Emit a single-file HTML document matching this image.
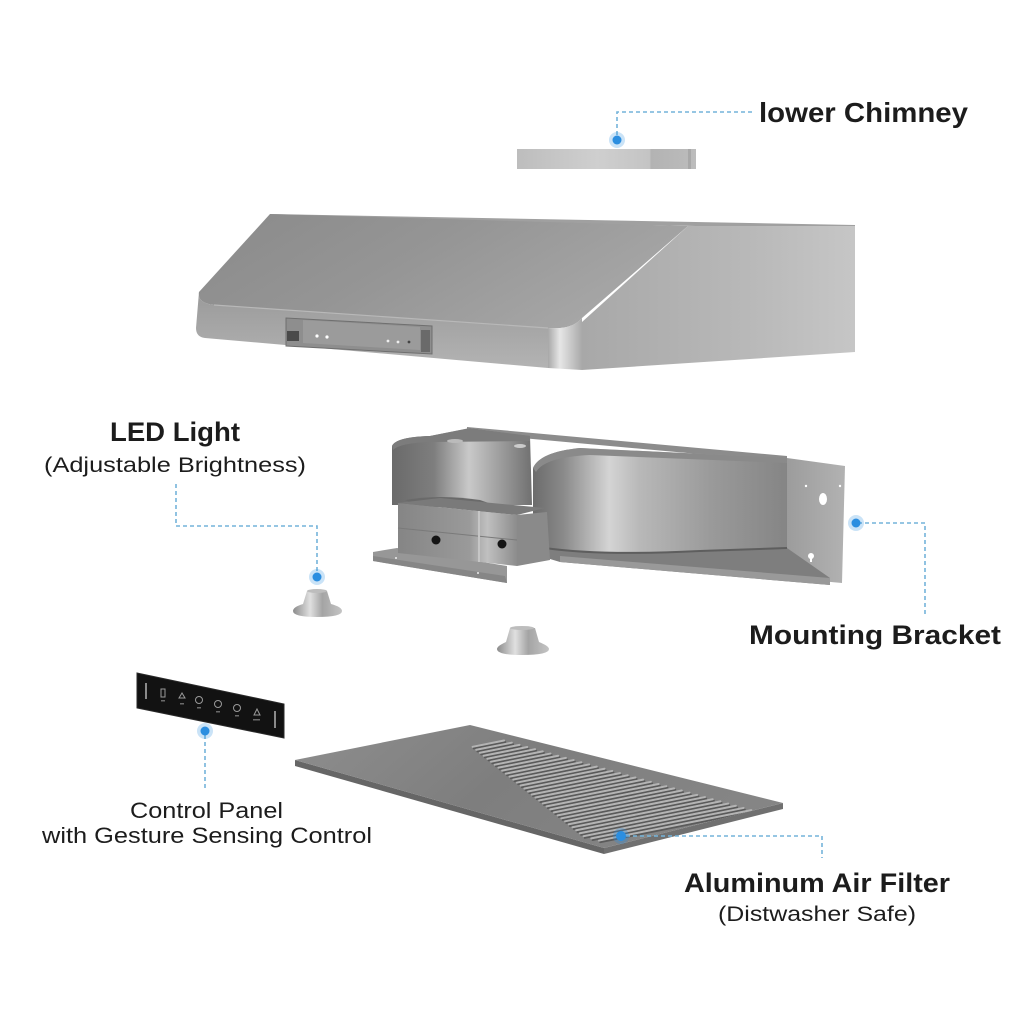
<!DOCTYPE html>
<html>
<head>
<meta charset="utf-8">
<style>
html,body{margin:0;padding:0;background:#fff;}
body{width:1024px;height:1024px;overflow:hidden;}
svg{display:block;}
text{font-family:"Liberation Sans",sans-serif;fill:#1c1c1c;}
.b{font-weight:bold;}
.c{fill:none;stroke:#74b4da;stroke-width:1.6;stroke-dasharray:4 3;}
</style>
</head>
<body>
<svg width="1024" height="1024" viewBox="0 0 1024 1024" xmlns="http://www.w3.org/2000/svg" xmlns:xlink="http://www.w3.org/1999/xlink">
<defs>
  <linearGradient id="chim" x1="0" y1="0" x2="1" y2="0">
    <stop offset="0" stop-color="#bdbdbd"/>
    <stop offset="0.45" stop-color="#cfcfcf"/>
    <stop offset="0.74" stop-color="#c4c4c4"/>
    <stop offset="0.75" stop-color="#b3b3b3"/>
    <stop offset="1" stop-color="#bcbcbc"/>
  </linearGradient>
  <linearGradient id="slope" x1="0" y1="0" x2="1" y2="0.4">
    <stop offset="0" stop-color="#8a8a8a"/>
    <stop offset="0.5" stop-color="#959595"/>
    <stop offset="1" stop-color="#a6a6a6"/>
  </linearGradient>
  <linearGradient id="side" x1="0" y1="0" x2="1" y2="0">
    <stop offset="0" stop-color="#a8a8a8"/>
    <stop offset="0.6" stop-color="#b8b8b8"/>
    <stop offset="1" stop-color="#c6c6c6"/>
  </linearGradient>
  <linearGradient id="front" x1="0" y1="0" x2="0" y2="1">
    <stop offset="0" stop-color="#9a9a9a"/>
    <stop offset="1" stop-color="#b3b3b3"/>
  </linearGradient>
  <linearGradient id="corner" x1="0" y1="0" x2="1" y2="0">
    <stop offset="0" stop-color="#a8a8a8"/>
    <stop offset="0.35" stop-color="#e6e6e6"/>
    <stop offset="0.6" stop-color="#cfcfcf"/>
    <stop offset="1" stop-color="#a9a9a9"/>
  </linearGradient>
  <linearGradient id="cylR" x1="0" y1="0" x2="1" y2="0">
    <stop offset="0" stop-color="#6c6c6c"/>
    <stop offset="0.12" stop-color="#8a8a8a"/>
    <stop offset="0.3" stop-color="#d4d4d4"/>
    <stop offset="0.42" stop-color="#b8b8b8"/>
    <stop offset="0.7" stop-color="#9a9a9a"/>
    <stop offset="1" stop-color="#858585"/>
  </linearGradient>
  <linearGradient id="cylL" x1="0" y1="0" x2="1" y2="0">
    <stop offset="0" stop-color="#6a6a6a"/>
    <stop offset="0.3" stop-color="#7e7e7e"/>
    <stop offset="0.55" stop-color="#c9c9c9"/>
    <stop offset="0.85" stop-color="#8e8e8e"/>
    <stop offset="1" stop-color="#707070"/>
  </linearGradient>
  <linearGradient id="plate" x1="0" y1="0" x2="1" y2="0">
    <stop offset="0" stop-color="#9c9c9c"/>
    <stop offset="1" stop-color="#b2b2b2"/>
  </linearGradient>
  <linearGradient id="box" x1="0" y1="0" x2="1" y2="0">
    <stop offset="0" stop-color="#858585"/>
    <stop offset="0.6" stop-color="#9a9a9a"/>
    <stop offset="0.75" stop-color="#c0c0c0"/>
    <stop offset="1" stop-color="#8c8c8c"/>
  </linearGradient>
  <linearGradient id="cone" x1="0" y1="0" x2="1" y2="0">
    <stop offset="0" stop-color="#8c8c8c"/>
    <stop offset="0.35" stop-color="#e0e0e0"/>
    <stop offset="0.6" stop-color="#a4a4a4"/>
    <stop offset="1" stop-color="#c4c4c4"/>
  </linearGradient>
  <linearGradient id="filt" x1="0" y1="0" x2="1" y2="0.3">
    <stop offset="0" stop-color="#8e8e8e"/>
    <stop offset="0.5" stop-color="#7e7e7e"/>
    <stop offset="1" stop-color="#858585"/>
  </linearGradient>
  <clipPath id="fclip"><polygon points="295,760 470,725 783,803 604,848"/></clipPath>
  <g id="sl" transform="matrix(309 87 175 -35 295 760)" stroke-width="2" stroke-linecap="round">
    <line x1="0.150" y1="0.750" x2="0.150" y2="0.93" vector-effect="non-scaling-stroke"/>
    <line x1="0.175" y1="0.727" x2="0.175" y2="0.93" vector-effect="non-scaling-stroke"/>
    <line x1="0.200" y1="0.704" x2="0.200" y2="0.93" vector-effect="non-scaling-stroke"/>
    <line x1="0.225" y1="0.681" x2="0.225" y2="0.93" vector-effect="non-scaling-stroke"/>
    <line x1="0.250" y1="0.658" x2="0.250" y2="0.93" vector-effect="non-scaling-stroke"/>
    <line x1="0.275" y1="0.635" x2="0.275" y2="0.93" vector-effect="non-scaling-stroke"/>
    <line x1="0.300" y1="0.612" x2="0.300" y2="0.93" vector-effect="non-scaling-stroke"/>
    <line x1="0.325" y1="0.589" x2="0.325" y2="0.93" vector-effect="non-scaling-stroke"/>
    <line x1="0.350" y1="0.566" x2="0.350" y2="0.93" vector-effect="non-scaling-stroke"/>
    <line x1="0.375" y1="0.543" x2="0.375" y2="0.93" vector-effect="non-scaling-stroke"/>
    <line x1="0.400" y1="0.520" x2="0.400" y2="0.93" vector-effect="non-scaling-stroke"/>
    <line x1="0.425" y1="0.497" x2="0.425" y2="0.93" vector-effect="non-scaling-stroke"/>
    <line x1="0.450" y1="0.474" x2="0.450" y2="0.93" vector-effect="non-scaling-stroke"/>
    <line x1="0.475" y1="0.451" x2="0.475" y2="0.93" vector-effect="non-scaling-stroke"/>
    <line x1="0.500" y1="0.428" x2="0.500" y2="0.93" vector-effect="non-scaling-stroke"/>
    <line x1="0.525" y1="0.405" x2="0.525" y2="0.93" vector-effect="non-scaling-stroke"/>
    <line x1="0.550" y1="0.382" x2="0.550" y2="0.93" vector-effect="non-scaling-stroke"/>
    <line x1="0.575" y1="0.359" x2="0.575" y2="0.93" vector-effect="non-scaling-stroke"/>
    <line x1="0.600" y1="0.336" x2="0.600" y2="0.93" vector-effect="non-scaling-stroke"/>
    <line x1="0.625" y1="0.313" x2="0.625" y2="0.93" vector-effect="non-scaling-stroke"/>
    <line x1="0.650" y1="0.290" x2="0.650" y2="0.93" vector-effect="non-scaling-stroke"/>
    <line x1="0.675" y1="0.267" x2="0.675" y2="0.93" vector-effect="non-scaling-stroke"/>
    <line x1="0.700" y1="0.244" x2="0.700" y2="0.93" vector-effect="non-scaling-stroke"/>
    <line x1="0.725" y1="0.221" x2="0.725" y2="0.93" vector-effect="non-scaling-stroke"/>
    <line x1="0.750" y1="0.198" x2="0.750" y2="0.93" vector-effect="non-scaling-stroke"/>
    <line x1="0.775" y1="0.175" x2="0.775" y2="0.93" vector-effect="non-scaling-stroke"/>
    <line x1="0.800" y1="0.152" x2="0.800" y2="0.93" vector-effect="non-scaling-stroke"/>
    <line x1="0.825" y1="0.129" x2="0.825" y2="0.93" vector-effect="non-scaling-stroke"/>
    <line x1="0.850" y1="0.106" x2="0.850" y2="0.93" vector-effect="non-scaling-stroke"/>
    <line x1="0.875" y1="0.083" x2="0.875" y2="0.93" vector-effect="non-scaling-stroke"/>
    <line x1="0.900" y1="0.060" x2="0.900" y2="0.93" vector-effect="non-scaling-stroke"/>
    <line x1="0.925" y1="0.060" x2="0.925" y2="0.93" vector-effect="non-scaling-stroke"/>
    <line x1="0.950" y1="0.060" x2="0.950" y2="0.93" vector-effect="non-scaling-stroke"/>
  </g>
</defs>

<!-- ===== Lower chimney ===== -->
<rect x="517" y="149" width="179" height="20" fill="url(#chim)"/>
<rect x="688" y="149" width="3" height="20" fill="#a8a8a8"/>
<path class="c" d="M752,112 L617,112 L617,138"/>
<circle cx="617" cy="140" r="8" fill="#2b8ee0" opacity="0.25"/>
<circle cx="617" cy="140" r="4.5" fill="#2b8ee0"/>
<text class="b" x="759" y="122" font-size="28" textLength="209" lengthAdjust="spacingAndGlyphs">lower Chimney</text>

<!-- ===== Hood ===== -->
<path d="M270,214 L855,225 L855,229 L270,218 Z" fill="#a0a0a0"/>
<path d="M270,214 L688,226 L582,318 Q572,330 548,328 L214,305 Q197,303 199,292 Z" fill="url(#slope)"/>
<path d="M688,226 L855,226 L855,352 L582,370 L582,322 Z" fill="url(#side)"/>
<path d="M548,328 Q572,330 582,318 L582,370 L548,368 Z" fill="url(#corner)"/>
<path d="M199,292 Q197,303 214,305 L548,328 L548,368 L205,338 Q196,337 196,328 Z" fill="url(#front)"/>
<path d="M214,305 L548,328" stroke="#b8b8b8" stroke-width="1.2" fill="none"/>
<!-- hood control strip -->
<path d="M286,318 L432,326 L432,354 L286,346 Z" fill="#8e8e8e" stroke="#6f6f6f" stroke-width="1"/>
<path d="M303,320 L420,327 L420,350 L303,343 Z" fill="#9b9b9b"/>
<rect x="287" y="331" width="12" height="10" fill="#4a4a4a"/>
<rect x="421" y="330" width="9" height="22" fill="#6a6a6a"/>
<circle cx="317" cy="336" r="1.6" fill="#fff"/>
<circle cx="327" cy="337" r="1.6" fill="#fff"/>
<circle cx="388" cy="341" r="1.4" fill="#eee"/>
<circle cx="398" cy="342" r="1.4" fill="#eee"/>
<circle cx="409" cy="342" r="1.4" fill="#444"/>

<!-- ===== Blower / mounting bracket assembly ===== -->
<path d="M467,427 L787,456 L787,462 L467,433 Z" fill="#8c8c8c"/>
<path d="M787,458 L845,466 L842,583 L787,578 Z" fill="url(#plate)"/>
<ellipse cx="823" cy="499" rx="4" ry="6" fill="#fff"/>
<circle cx="811" cy="556" r="3" fill="#fff"/>
<rect x="810" y="556" width="2" height="6" fill="#fff"/>
<circle cx="806" cy="486" r="1.2" fill="#fff"/>
<circle cx="840" cy="486" r="1.2" fill="#fff"/>
<path d="M540,546 L787,548 L830,578 L830,585 L560,562 L540,556 Z" fill="#7e7e7e"/>
<path d="M560,556 L830,578 L830,585 L560,562 Z" fill="#999"/>
<path d="M533,468 Q540,452 580,448 L787,458 L787,548 L700,551 Q600,556 545,548 Q533,544 533,530 Z" fill="url(#cylR)"/>
<path d="M533,468 Q540,452 580,448 L787,458 L787,463 L590,455 Q545,457 536,472 Z" fill="#8a8a8a"/>
<path d="M545,548 Q600,556 700,551 L787,548" stroke="#5e5e5e" stroke-width="2" fill="none"/>
<path d="M392,446 Q396,437 430,436 L470,428 L530,436 L532,505 L392,505 Z" fill="url(#cylL)"/>
<path d="M392,446 Q396,437 430,436 L470,428 L530,436 L530,441 L430,442 Q400,443 393,450 Z" fill="#7c7c7c"/>
<ellipse cx="455" cy="441" rx="8" ry="2" fill="#bbb"/>
<ellipse cx="520" cy="446" rx="6" ry="2" fill="#ccc"/>
<path d="M405,500 Q440,494 480,500 L500,507 L420,507 Z" fill="#6a6a6a"/>
<path d="M373,552 L397,548 L507,566 L507,583 L373,561 Z" fill="#979797"/>
<path d="M373,556 L505,576 L507,583 L373,561 Z" fill="#868686"/>
<circle cx="396" cy="558" r="1" fill="#eee"/>
<circle cx="478" cy="573" r="1" fill="#eee"/>
<path d="M398,503 L517,515 L517,566 L398,553 Z" fill="url(#box)"/>
<path d="M517,515 L547,512 L550,560 L517,566 Z" fill="#8a8a8a"/>
<path d="M398,503 L440,498 L545,508 L517,515 Z" fill="#7a7a7a"/>
<path d="M398,528 L517,540" stroke="#7a7a7a" stroke-width="1"/>
<line x1="479" y1="511" x2="479" y2="562" stroke="#c6c6c6" stroke-width="2"/>
<circle cx="436" cy="540" r="4.5" fill="#151515"/>
<circle cx="502" cy="544" r="4.5" fill="#151515"/>

<path class="c" d="M858,523 L925,523 L925,617"/>
<circle cx="856" cy="523" r="8" fill="#2b8ee0" opacity="0.25"/>
<circle cx="856" cy="523" r="4.5" fill="#2b8ee0"/>
<text class="b" x="749" y="644" font-size="27" textLength="252" lengthAdjust="spacingAndGlyphs">Mounting Bracket</text>

<!-- ===== LED lights ===== -->
<path d="M307,591 L327,591 L331,604 Q342,607 342,611 Q342,617 317,617 Q293,617 293,611 Q293,607 303,604 Z" fill="url(#cone)"/>
<ellipse cx="317" cy="591" rx="10" ry="2" fill="#bdbdbd"/>
<path d="M510,628 L535,628 L539,642 Q549,646 549,649 Q549,655 522,655 Q497,655 497,649 Q497,646 506,642 Z" fill="url(#cone)"/>
<ellipse cx="522" cy="628" rx="12" ry="2" fill="#bdbdbd"/>
<path class="c" d="M176,484 L176,526 L317,526 L317,573"/>
<circle cx="317" cy="577" r="8" fill="#2b8ee0" opacity="0.25"/>
<circle cx="317" cy="577" r="4.5" fill="#2b8ee0"/>
<text class="b" x="110" y="441" font-size="27" textLength="130" lengthAdjust="spacingAndGlyphs">LED Light</text>
<text x="44" y="472" font-size="21" textLength="262" lengthAdjust="spacingAndGlyphs">(Adjustable Brightness)</text>

<!-- ===== Control panel ===== -->
<path d="M137,673 L284,704 L284,738 L137,708 Z" fill="#121212" stroke="#2a2a2a" stroke-width="1"/>
<rect x="145" y="683" width="2" height="16" fill="#8a8a8a"/>
<rect x="274" y="711" width="2" height="17" fill="#8a8a8a"/>
<g fill="none" stroke="#9a9a9a" stroke-width="1">
  <rect x="161" y="689" width="4" height="8"/>
  <path d="M182,693 l-3,5 h6 z"/>
  <circle cx="199" cy="700" r="3.5"/>
  <circle cx="218" cy="704" r="3.5"/>
  <circle cx="237" cy="708" r="3.5"/>
  <path d="M257,709 l-3,6 h6 z"/>
</g>
<g fill="#6a6a6a">
  <rect x="161" y="700" width="4" height="1.5"/>
  <rect x="180" y="703" width="4" height="1.5"/>
  <rect x="197" y="707" width="4" height="1.5"/>
  <rect x="216" y="711" width="4" height="1.5"/>
  <rect x="235" y="715" width="4" height="1.5"/>
  <rect x="253" y="719" width="7" height="1.5"/>
</g>
<path class="c" d="M205,735 L205,790"/>
<circle cx="205" cy="731" r="8" fill="#2b8ee0" opacity="0.25"/>
<circle cx="205" cy="731" r="4.5" fill="#2b8ee0"/>
<text x="130" y="818" font-size="22" textLength="153" lengthAdjust="spacingAndGlyphs">Control Panel</text>
<text x="42" y="843" font-size="22" textLength="330" lengthAdjust="spacingAndGlyphs">with Gesture Sensing Control</text>

<!-- ===== Aluminum filter ===== -->
<path d="M295,760 L604,848 L604,854 L295,766 Z" fill="#666"/>
<path d="M604,848 L783,803 L783,809 L604,854 Z" fill="#707070"/>
<polygon points="295,760 470,725 783,803 604,848" fill="url(#filt)"/>
<g clip-path="url(#fclip)">
  <use xlink:href="#sl" href="#sl" stroke="#5a5a5a" transform="translate(1.2,1.6)"/>
  <use xlink:href="#sl" href="#sl" stroke="#b4b4b4"/>
</g>
<path class="c" d="M626,836 L822,836 L822,858"/>
<circle cx="621" cy="836" r="8" fill="#2b8ee0" opacity="0.3"/>
<circle cx="621" cy="836" r="5" fill="#2b8ee0"/>
<text class="b" x="684" y="892" font-size="27" textLength="266" lengthAdjust="spacingAndGlyphs">Aluminum Air Filter</text>
<text x="718" y="921" font-size="21" textLength="198" lengthAdjust="spacingAndGlyphs">(Distwasher Safe)</text>
</svg>
</body>
</html>
